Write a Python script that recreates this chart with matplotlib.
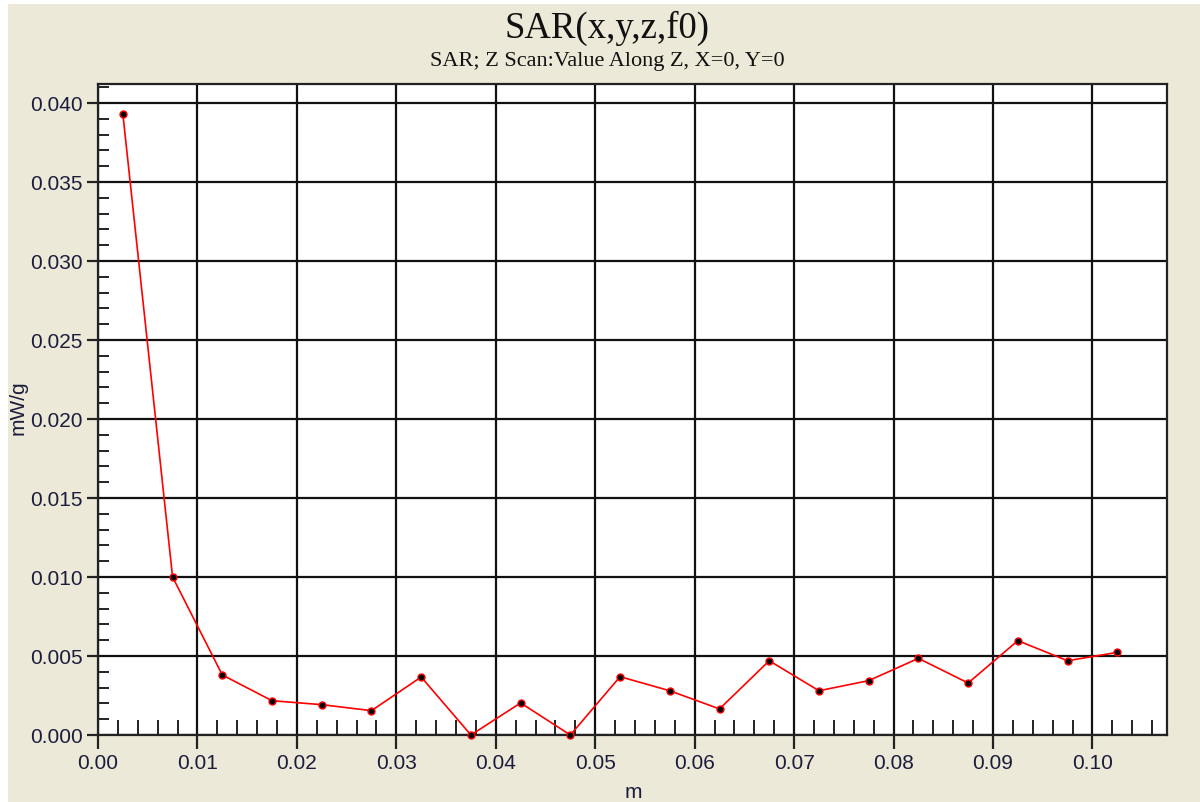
import matplotlib
matplotlib.use("Agg")
import matplotlib.pyplot as plt
from matplotlib.patches import Rectangle
from matplotlib.ticker import MultipleLocator

# z positions (m) and SAR values (mW/g)
z = [0.0025, 0.0075, 0.0125, 0.0175, 0.0225, 0.0275, 0.0325, 0.0375, 0.0425, 0.0475,
     0.0525, 0.0575, 0.0625, 0.0675, 0.0725, 0.0775, 0.0825, 0.0875, 0.0925, 0.0975, 0.1025]
sar = [0.0393, 0.0100, 0.0038, 0.00217, 0.00192, 0.00154, 0.00367, 0.0000, 0.00203, 0.0000,
       0.00369, 0.0028, 0.00165, 0.0047, 0.0028, 0.00344, 0.00485, 0.00329, 0.00597, 0.0047, 0.00523]

title = "SAR(x,y,z,f0)"
subtitle = "SAR; Z Scan:Value Along Z, X=0, Y=0"

bg = "#ECE9D8"
txt = "#1c1c3c"

fig = plt.figure(figsize=(12, 8.03), dpi=100, facecolor="white")
# beige panel with a thin white strip at top and left
fig.patches.append(Rectangle((8 / 1200, 0), 1, 1 - 5 / 803, transform=fig.transFigure,
                             facecolor=bg, edgecolor="none", zorder=-10))

ax = fig.add_axes([98 / 1200, 1 - 736 / 803, (1167 - 98) / 1200, (736 - 85) / 803])
ax.set_facecolor("white")

ax.plot(z, sar, color="red", lw=1.2, marker="o", ms=5, mfc="black", mec="red", mew=1.0,
        zorder=3, clip_on=False)

ax.set_xlim(0, 0.1075)
ax.set_ylim(0, 0.0412)
ax.xaxis.set_minor_locator(MultipleLocator(0.002))
ax.yaxis.set_minor_locator(MultipleLocator(0.001))
ax.set_xticks([i * 0.01 for i in range(11)])
ax.set_xticklabels([f"{i * 0.01:.2f}" for i in range(11)])
ax.set_yticks([i * 0.005 for i in range(9)])
ax.set_yticklabels([f"{i * 0.005:.3f}" for i in range(9)])

ax.grid(True, which="major", color="#111111", lw=1.6)
ax.set_axisbelow(True)
for s in ax.spines.values():
    s.set_color("#222222")
    s.set_linewidth(1.6)

ax.tick_params(which="major", direction="out", length=10, width=1.6, color="#222222",
               labelsize=15, labelcolor=txt, labelfontfamily="Liberation Sans", pad=3)
ax.tick_params(which="minor", direction="in", length=11, width=1.4, color="#222222")
ax.tick_params(axis="y", which="major", length=8)
ax.tick_params(axis="y", which="minor", length=8)

fig.text(607 / 1200, 1 - 38 / 803, title, ha="center", va="baseline",
         family="Liberation Serif", fontsize=26.5, color="#111111")
fig.text(607 / 1200, 1 - 66 / 803, subtitle, ha="center", va="baseline",
         family="Liberation Serif", fontsize=16, color="#111111")
fig.text(18 / 1200, 1 - 408 / 803, "mW/g", rotation=90, ha="center", va="center",
         family="Liberation Sans", fontsize=15, color=txt)
fig.text(633 / 1200, 1 - 793 / 803, "m", ha="center", va="center",
         family="Liberation Sans", fontsize=15, color=txt)

fig.savefig("out.png", dpi=100, facecolor=fig.get_facecolor())
